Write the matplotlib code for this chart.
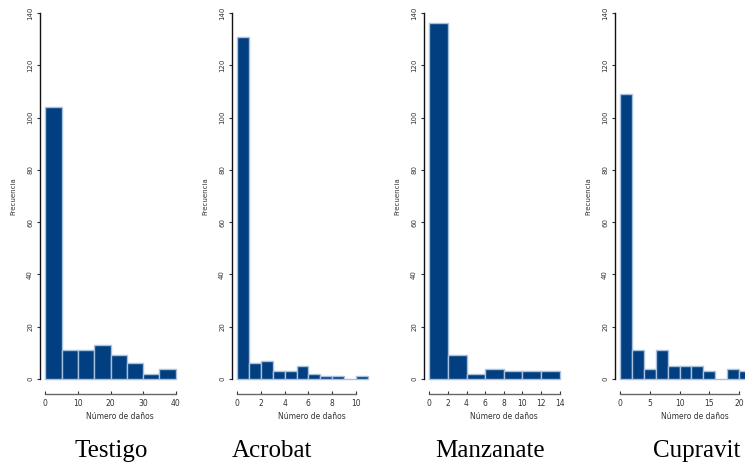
import matplotlib.pyplot as plt

# Histogram data (bin width, counts per bin starting at 0)
testigo_width = 5
testigo_counts = [104, 11, 11, 13, 9, 6, 2, 4]
testigo_ticks = [0, 10, 20, 30, 40]

acrobat_width = 1
acrobat_counts = [131, 6, 7, 3, 3, 5, 2, 1, 1, 0, 1]
acrobat_ticks = [0, 2, 4, 6, 8, 10]

manzanate_width = 2
manzanate_counts = [136, 9, 2, 4, 3, 3, 3]
manzanate_ticks = [0, 2, 4, 6, 8, 10, 12, 14]

cupravit_width = 2
cupravit_counts = [109, 11, 4, 11, 5, 5, 5, 3, 0, 4, 3]
cupravit_ticks = [0, 5, 10, 15, 20]

names = ["Testigo", "Acrobat", "Manzanate", "Cupravit"]
name_x = [111, 272, 490, 697]
y_ticks = [0, 20, 40, 60, 80, 100, 120, 140]

panels = [
    (testigo_width, testigo_counts, testigo_ticks),
    (acrobat_width, acrobat_counts, acrobat_ticks),
    (manzanate_width, manzanate_counts, manzanate_ticks),
    (cupravit_width, cupravit_counts, cupravit_ticks),
]

W, H = 745, 467
fig = plt.figure(figsize=(W / 100, H / 100), dpi=100)

fill = "#023f80"
edge = "#a9c1de"
lefts_px = [40, 232, 424, 615]
ax_w = 141
ax_top = -1.6
ax_bot = 393.6

for (bw, counts, xt), lp in zip(panels, lefts_px):
    ax = fig.add_axes([lp / W, 1 - ax_bot / H, ax_w / W, (ax_bot - ax_top) / H])
    edges = [i * bw for i in range(len(counts))]
    ax.bar(edges, counts, width=bw, align="edge", color=fill,
           edgecolor=edge, linewidth=1.0)
    xmax = len(counts) * bw
    pad = 0.04 * xmax
    ax.set_xlim(-pad, xmax + pad)
    ax.set_ylim(-5.6, 145.6)

    for s in ["top", "right"]:
        ax.spines[s].set_visible(False)
    ax.spines["left"].set_bounds(0, 140)
    ax.spines["left"].set_color("#111111")
    ax.spines["left"].set_linewidth(1.0)
    ax.spines["bottom"].set_bounds(xt[0], xt[-1])
    ax.spines["bottom"].set_color("#666666")
    ax.spines["bottom"].set_linewidth(1.0)

    ax.set_yticks(y_ticks)
    ax.set_xticks(xt)
    ax.tick_params(axis="y", length=2.5, width=0.8, pad=2.5, labelsize=5,
                   labelrotation=90, colors="#333333")
    ax.tick_params(axis="x", direction="in", length=2, width=0.8, pad=4,
                   labelsize=5.5, colors="#333333")
    for lab in ax.get_yticklabels():
        lab.set_va("center")

    ax.text(0.567, -0.059, "Número de daños", transform=ax.transAxes,
            ha="center", va="center", fontsize=5.5, color="#333333")
    ax.text(-0.19, 0.5, "Frecuencia", transform=ax.transAxes, rotation=90,
            ha="center", va="center", fontsize=5, color="#333333")

for name, x in zip(names, name_x):
    fig.text(x / W, 1 - 457 / H, name, ha="center", va="baseline",
             fontsize=18, family="Liberation Serif")

fig.savefig("out.png", dpi=100)
